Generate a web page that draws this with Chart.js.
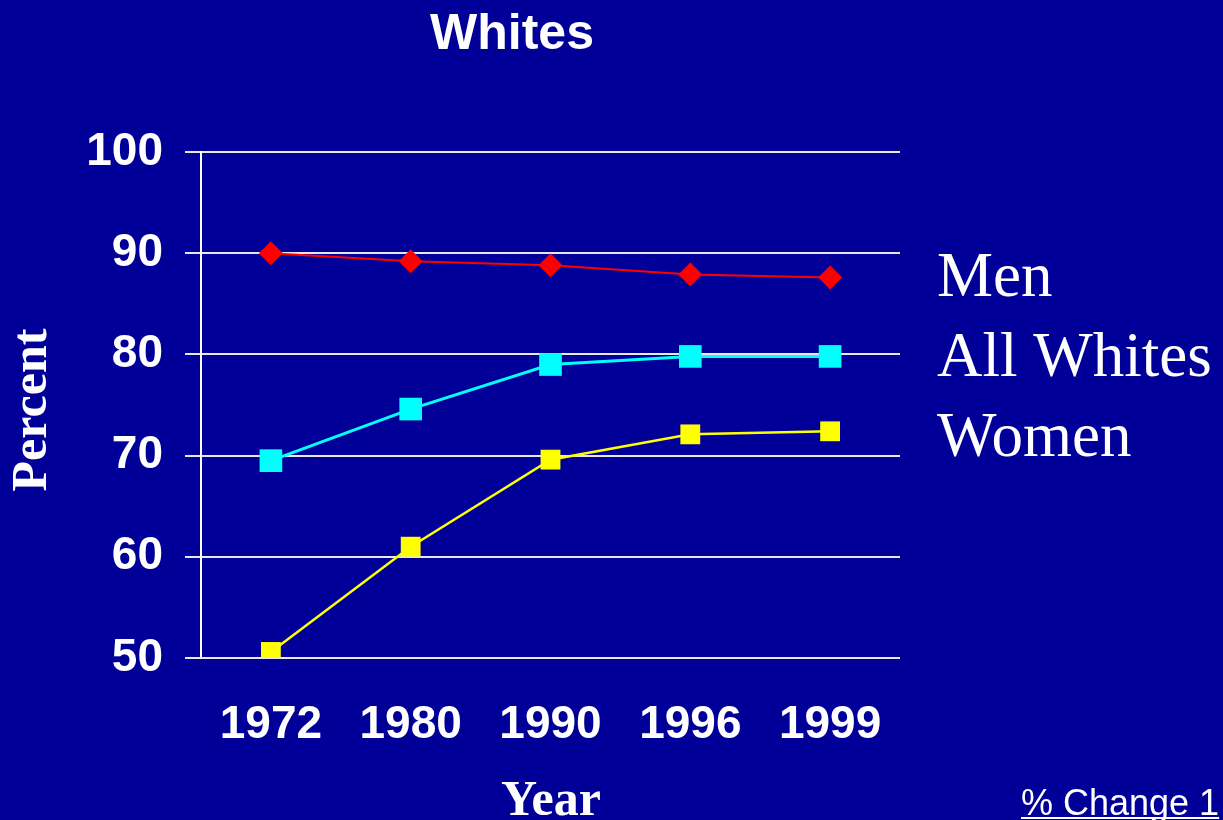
<!DOCTYPE html>
<html>
<head>
<meta charset="utf-8">
<script src="https://cdn.jsdelivr.net/npm/chart.js@4/dist/chart.umd.min.js"></script>
<style>
  html, body { margin: 0; padding: 0; background: #000099; }
  #wrap { width: 1223px; height: 820px; }
</style>
</head>
<body>
<div id="wrap"><canvas id="chart" width="1223" height="820"></canvas></div>
<script>
const years = ['1972', '1980', '1990', '1996', '1999'];
const men = [90.0, 89.2, 88.8, 87.9, 87.6];
const allWhites = [69.5, 74.6, 79.0, 79.8, 79.8];
const women = [50.6, 61.0, 69.6, 72.1, 72.4];
const seriesNames = ['Men', 'All Whites', 'Women'];

const bg = '#000099';

// draws background, title, axis titles, side labels and footer note
const decorations = {
  id: 'decorations',
  beforeDraw(chart) {
    const ctx = chart.ctx;
    ctx.save();
    ctx.fillStyle = bg;
    ctx.fillRect(0, 0, chart.width, chart.height);
    ctx.restore();
  },
  afterDraw(chart) {
    const ctx = chart.ctx;
    ctx.save();
    ctx.fillStyle = '#ffffff';
    ctx.textBaseline = 'middle';

    // title
    ctx.textAlign = 'center';
    ctx.font = 'bold 50px "Liberation Sans", Arial, sans-serif';
    ctx.fillText('Whites', 512, 35);

    // axis titles
    ctx.font = 'bold 50px "Liberation Serif", "Times New Roman", serif';
    ctx.fillText('Year', 551, 802);
    ctx.save();
    ctx.translate(33, 410);
    ctx.rotate(-Math.PI / 2);
    ctx.fillText('Percent', 0, 0);
    ctx.restore();

    // series labels on the right
    ctx.textAlign = 'left';
    ctx.font = '63px "Liberation Serif", "Times New Roman", serif';
    seriesNames.forEach((name, i) => {
      ctx.fillText(name, 937, 279 + i * 80);
    });

    // footer note, underlined
    ctx.font = '36px "Liberation Sans", Arial, sans-serif';
    ctx.textBaseline = 'alphabetic';
    const note = '% Change 1';
    ctx.fillText(note, 1021, 815);
    const w = ctx.measureText(note).width;
    ctx.fillRect(1021, 817, w, 2);

    ctx.restore();
  }
};

new Chart(document.getElementById('chart'), {
  type: 'line',
  data: {
    labels: years,
    datasets: [
      {
        label: seriesNames[0],
        data: men,
        borderColor: '#ff0000',
        backgroundColor: '#ff0000',
        borderWidth: 2,
        pointStyle: 'rectRot',
        pointRadius: 12,
        pointBorderWidth: 0
      },
      {
        label: seriesNames[1],
        data: allWhites,
        borderColor: '#00ffff',
        backgroundColor: '#00ffff',
        borderWidth: 3,
        pointStyle: 'rect',
        pointRadius: 16,
        pointBorderWidth: 0
      },
      {
        label: seriesNames[2],
        data: women,
        borderColor: '#ffff00',
        backgroundColor: '#ffff00',
        borderWidth: 2.5,
        pointStyle: 'rect',
        pointRadius: 14,
        pointBorderWidth: 0
      }
    ]
  },
  options: {
    responsive: false,
    animation: false,
    layout: {
      padding: { top: 152, right: 323, bottom: 0, left: 0 }
    },
    plugins: {
      legend: { display: false },
      title: { display: false },
      tooltip: { enabled: false }
    },
    scales: {
      x: {
        offset: true,
        grid: { display: false },
        border: { display: false },
        ticks: {
          color: '#ffffff',
          padding: 32,
          font: { family: '"Liberation Sans", Arial, sans-serif', size: 46, weight: 'bold' }
        },
        afterFit(scale) { scale.height = 162; }
      },
      y: {
        min: 50,
        max: 100,
        ticks: {
          stepSize: 10,
          color: '#ffffff',
          padding: 22,
          font: { family: '"Liberation Sans", Arial, sans-serif', size: 46, weight: 'bold' }
        },
        grid: {
          color: '#e8e8e8',
          lineWidth: 2,
          tickLength: 16
        },
        border: { display: true, color: '#ffffff', width: 2 },
        afterFit(scale) { scale.width = 201; }
      }
    }
  },
  plugins: [decorations]
});
</script>
</body>
</html>
